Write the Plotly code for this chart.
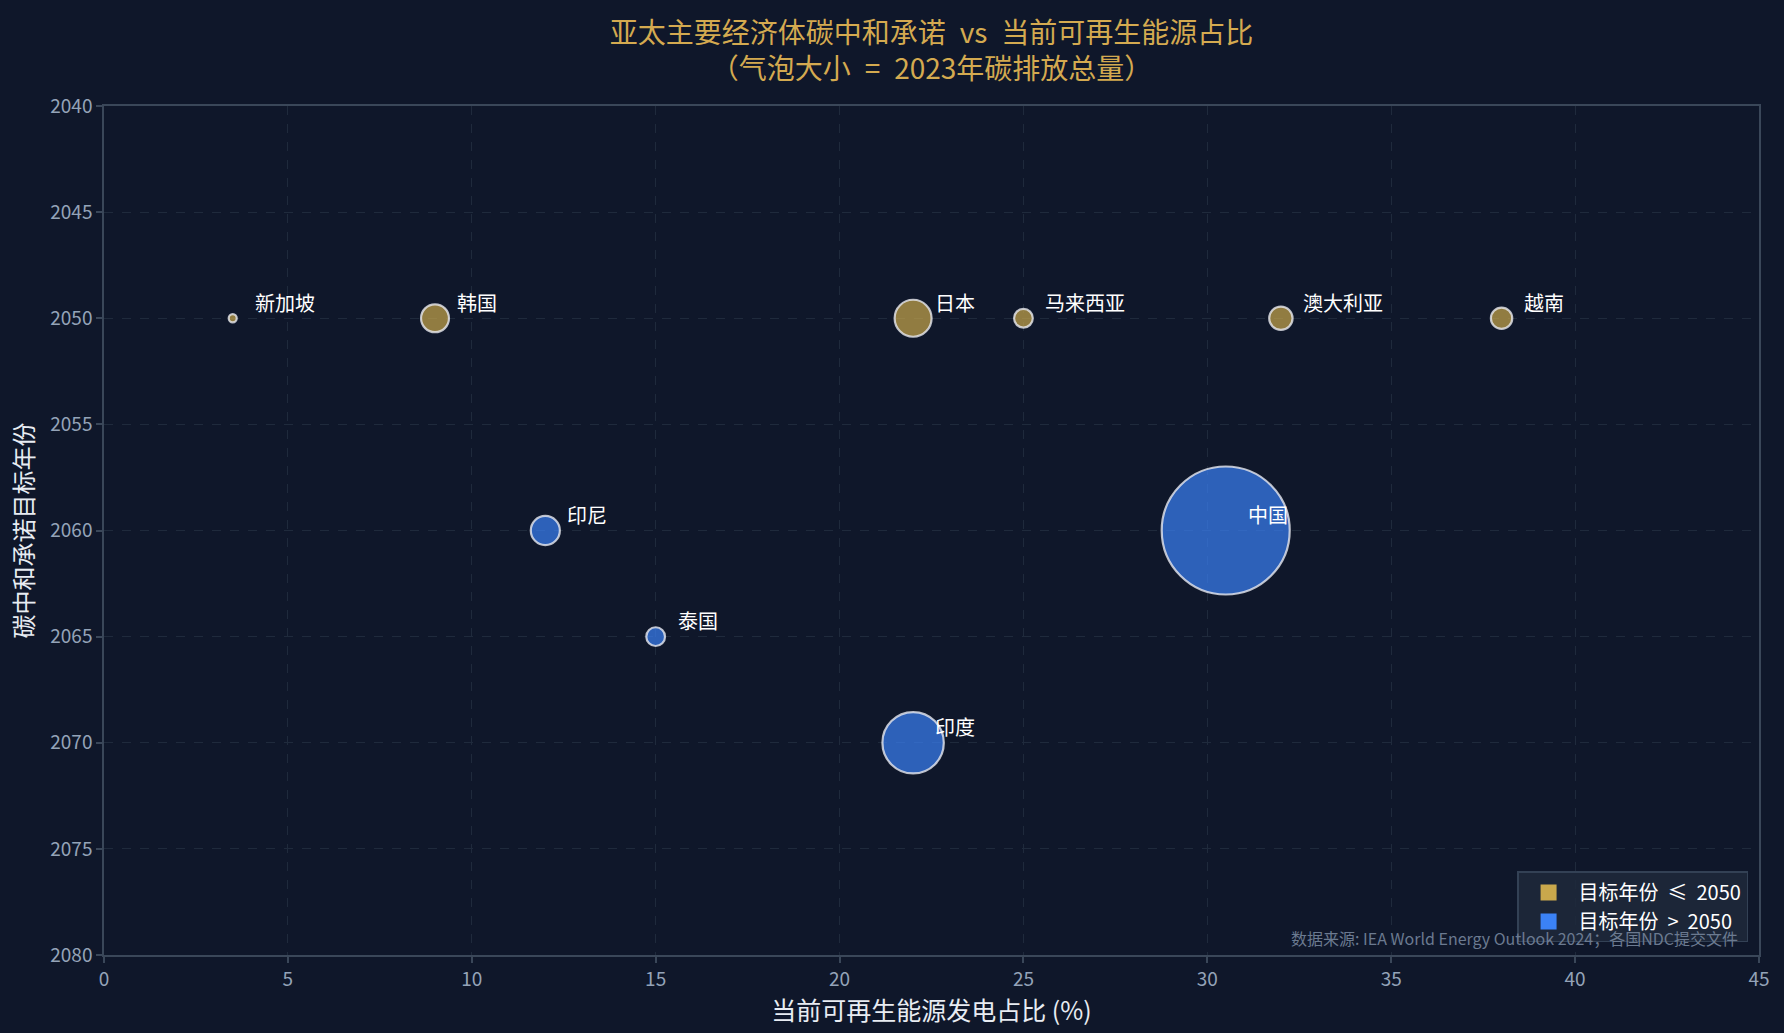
import plotly.graph_objects as go
import math

# ---- data ----
countries = ["新加坡", "韩国", "日本", "马来西亚", "澳大利亚", "越南", "印尼", "中国", "泰国", "印度"]
renew_share = [3.5, 9, 22, 25, 32, 38, 12, 30.5, 15, 22]          # %
target_year = [2050, 2050, 2050, 2050, 2050, 2050, 2060, 2060, 2065, 2070]
emissions_2023 = [50, 600, 1050, 270, 420, 350, 650, 12600, 270, 2900]  # Mt CO2

x_ticks = [0, 5, 10, 15, 20, 25, 30, 35, 40, 45]
y_ticks = [2040, 2045, 2050, 2055, 2060, 2065, 2070, 2075, 2080]

GOLD = "#c9a84c"
BLUE = "#3b82f6"
BG = "#0f172a"
FONT = "Noto Sans CJK SC"
NB = "\u00a0"
EN = "\u2002"

max_d = 128
emax = max(emissions_2023)
diam = [max_d * math.sqrt(e / emax) for e in emissions_2023]

fig = go.Figure()

groups = [
    (f"目标年份{NB}{NB}≤{NB}{NB}2050", GOLD, "rgba(201,168,76,0.7)", lambda y: y <= 2050),
    (f"目标年份{NB}{NB}>{NB}{NB}2050", BLUE, "rgba(59,130,246,0.7)", lambda y: y > 2050),
]
for name, solid, fill, cond in groups:
    idx = [i for i, y in enumerate(target_year) if cond(y)]
    fig.add_trace(go.Scatter(
        x=[renew_share[i] for i in idx],
        y=[target_year[i] for i in idx],
        mode="markers",
        marker=dict(size=[diam[i] for i in idx], sizemode="diameter",
                    color=fill, opacity=1,
                    line=dict(color="rgba(232,234,240,0.8)", width=2.2)),
        text=[countries[i] for i in idx],
        showlegend=False,
        hoverinfo="text",
    ))
    # legend proxy
    fig.add_trace(go.Scatter(
        x=[None], y=[None], mode="markers", name=name,
        marker=dict(symbol="square", size=16, color=solid),
        showlegend=True,
    ))

annotations = []
for c, xv, yv in zip(countries, renew_share, target_year):
    annotations.append(dict(
        x=xv, y=yv, xref="x", yref="y", text=c, showarrow=False,
        xanchor="left", yanchor="middle", xshift=20, yshift=16,
        font=dict(family=FONT, size=20, color="#ffffff"),
    ))
annotations.append(dict(
    x=0.9885, y=0.0196, xref="paper", yref="paper",
    text="数据来源: IEA World Energy Outlook 2024；各国NDC提交文件",
    showarrow=False, xanchor="right", yanchor="middle",
    font=dict(family=FONT, size=16, color="#6b7a90"),
))

axis_common = dict(
    showline=True, linecolor="#3a4759", linewidth=1.5, mirror=True,
    ticks="outside", ticklen=6, tickcolor="#3a4759", tickwidth=1.5,
    showgrid=True, gridcolor="#1f2a3c", griddash="dash", gridwidth=1,
    zeroline=False,
    tickfont=dict(family=FONT, size=19, color="#94a3b8"),
)

fig.update_layout(
    width=1784, height=1033,
    paper_bgcolor=BG, plot_bgcolor=BG,
    margin=dict(l=104, r=25, t=106, b=78),
    font=dict(family=FONT),
    title=dict(
        text=(f"亚太主要经济体碳中和承诺{EN}vs{EN}当前可再生能源占比<br>"
              f"（气泡大小{EN}={EN}2023年碳排放总量）"),
        x=(104 + 1759) / 2 / 1784, xanchor="center",
        y=1 - 43 / 1033, yanchor="middle",
        font=dict(family=FONT, size=28, color="#d4aa50"),
    ),
    xaxis=dict(
        range=[0, 45], tickvals=x_ticks,
        title=dict(text="当前可再生能源发电占比 (%)", font=dict(family=FONT, size=25, color="#e8ecf2"), standoff=12),
        **axis_common,
    ),
    yaxis=dict(
        range=[2080, 2040], tickvals=y_ticks,
        title=dict(text="碳中和承诺目标年份", font=dict(family=FONT, size=24, color="#e8ecf2"), standoff=10),
        **axis_common,
    ),
    legend=dict(
        x=0.9934, y=0.0148, xanchor="right", yanchor="bottom",
        bgcolor="rgba(30,41,59,0.85)", bordercolor="#334155", borderwidth=1.5,
        font=dict(family=FONT, size=20, color="#ffffff"),
        itemsizing="trace", itemwidth=50,
    ),
    annotations=annotations,
)

fig.write_html(
    "out.html",
    config={"displayModeBar": False},
    post_script="document.body.style.margin='0';document.body.style.background='#0f172a';",
)
